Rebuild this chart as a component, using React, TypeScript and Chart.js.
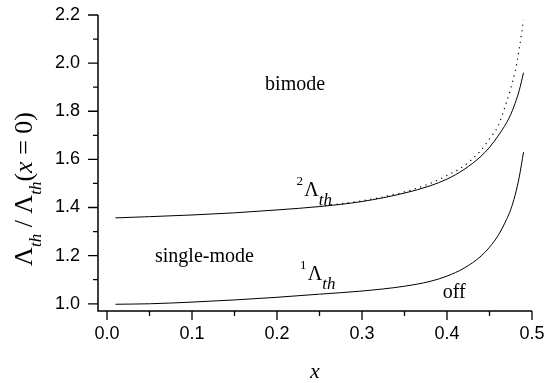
import React, { useEffect, useRef } from "react";
import { Chart, registerables } from "chart.js";

Chart.register(...registerables);

// ---- data ----
const xValues = [0.01, 0.05, 0.1, 0.15, 0.2, 0.25, 0.3, 0.35, 0.38, 0.4, 0.42, 0.44, 0.45, 0.46, 0.47, 0.475, 0.48, 0.485, 0.49];
const lambda1 = [0.998, 1.0, 1.007, 1.016, 1.027, 1.04, 1.053, 1.073, 1.093, 1.115, 1.148, 1.198, 1.235, 1.283, 1.35, 1.392, 1.45, 1.527, 1.63];
const lambda2 = [1.357, 1.362, 1.369, 1.378, 1.39, 1.404, 1.425, 1.46, 1.49, 1.518, 1.558, 1.613, 1.65, 1.697, 1.752, 1.787, 1.832, 1.887, 1.96];
const dottedX = [0.25, 0.3, 0.35, 0.38, 0.4, 0.42, 0.44, 0.45, 0.46, 0.47, 0.475, 0.48, 0.485, 0.49];
const dottedY = [1.405, 1.428, 1.465, 1.5, 1.533, 1.573, 1.638, 1.685, 1.738, 1.838, 1.895, 1.963, 2.06, 2.18];

const xTicks = [0.0, 0.1, 0.2, 0.3, 0.4, 0.5];
const xMinorTicks = [0.05, 0.15, 0.25, 0.35, 0.45];
const yTicks = [1.0, 1.2, 1.4, 1.6, 1.8, 2.0, 2.2];
const yMinorTicks = [1.1, 1.3, 1.5, 1.7, 1.9, 2.1];

// annotation anchors (data coordinates)
const annBimode = { x: 0.186, y: 1.889, text: "bimode" };
const annSingle = { x: 0.0565, y: 1.175, text: "single-mode" };
const annOff = { x: 0.395, y: 1.025, text: "off" };
const annL2 = { x: 0.223, y: 1.447, sup: "2" };
const annL1 = { x: 0.227, y: 1.1, sup: "1" };

const SERIF = "'Liberation Serif', 'Times New Roman', serif";
const SANS = "'Liberation Sans', Arial, sans-serif";

type Seg = { t: string; size: number; italic?: boolean; dy?: number };

function drawSegs(ctx: CanvasRenderingContext2D, segs: Seg[], x: number, y: number) {
  let cx = x;
  for (const s of segs) {
    ctx.font = `${s.italic ? "italic " : ""}${s.size}px ${SERIF}`;
    ctx.fillText(s.t, cx, y + (s.dy || 0));
    cx += ctx.measureText(s.t).width;
  }
}
function segsWidth(ctx: CanvasRenderingContext2D, segs: Seg[]) {
  let w = 0;
  for (const s of segs) {
    ctx.font = `${s.italic ? "italic " : ""}${s.size}px ${SERIF}`;
    w += ctx.measureText(s.t).width;
  }
  return w;
}

const zeroPad = (s: any) => {
  s.paddingLeft = 0;
  s.paddingRight = 0;
  s.paddingTop = 0;
  s.paddingBottom = 0;
};

const decor = {
  id: "decor",
  afterDraw(chart: any) {
    const ctx: CanvasRenderingContext2D = chart.ctx;
    const xs = chart.scales.x;
    const ys = chart.scales.y;
    const { left, right, top, bottom } = chart.chartArea;
    ctx.save();
    ctx.strokeStyle = "#000";
    ctx.fillStyle = "#000";
    ctx.lineWidth = 1.5;
    ctx.beginPath();
    ctx.moveTo(left, top);
    ctx.lineTo(left, bottom);
    ctx.lineTo(right, bottom);
    ctx.stroke();
    ctx.lineWidth = 1.3;
    ctx.beginPath();
    for (const v of yTicks) {
      const p = ys.getPixelForValue(v);
      ctx.moveTo(left, p);
      ctx.lineTo(left - 10, p);
    }
    for (const v of yMinorTicks) {
      const p = ys.getPixelForValue(v);
      ctx.moveTo(left, p);
      ctx.lineTo(left - 5, p);
    }
    for (const v of xTicks) {
      const p = xs.getPixelForValue(v);
      ctx.moveTo(p, bottom);
      ctx.lineTo(p, bottom + 9);
    }
    for (const v of xMinorTicks) {
      const p = xs.getPixelForValue(v);
      ctx.moveTo(p, bottom);
      ctx.lineTo(p, bottom + 5);
    }
    ctx.stroke();

    ctx.textBaseline = "alphabetic";
    ctx.textAlign = "left";
    for (const a of [annBimode, annSingle, annOff]) {
      ctx.font = `20px ${SERIF}`;
      ctx.fillText(a.text, xs.getPixelForValue(a.x), ys.getPixelForValue(a.y));
    }
    for (const a of [annL2, annL1]) {
      drawSegs(
        ctx,
        [
          { t: a.sup, size: 13, dy: -11 },
          { t: " ", size: 5 },
          { t: "Λ", size: 20 },
          { t: "th", size: 17, italic: true, dy: 9 },
        ],
        xs.getPixelForValue(a.x),
        ys.getPixelForValue(a.y)
      );
    }

    // x axis title
    ctx.font = `italic 22px ${SERIF}`;
    ctx.textAlign = "center";
    ctx.fillText("x", (left + right) / 2, 378);

    // y axis title
    ctx.textAlign = "left";
    const ySegs: Seg[] = [
      { t: "Λ", size: 26 },
      { t: "th", size: 17, italic: true, dy: 9 },
      { t: " / ", size: 26 },
      { t: "Λ", size: 26 },
      { t: "th", size: 17, italic: true, dy: 9 },
      { t: "(", size: 26 },
      { t: "x", size: 26, italic: true },
      { t: " = ", size: 26 },
      { t: "0", size: 26 },
      { t: ")", size: 26 },
    ];
    const w = segsWidth(ctx, ySegs);
    ctx.translate(32, 189);
    ctx.rotate(-Math.PI / 2);
    drawSegs(ctx, ySegs, -w / 2, 0);
    ctx.restore();
  },
};

export default function App() {
  const ref = useRef<HTMLCanvasElement | null>(null);
  useEffect(() => {
    if (!ref.current) return;
    const chart = new Chart(ref.current, {
      type: "line",
      data: {
        datasets: [
          {
            label: "2Λth",
            data: xValues.map((x, i) => ({ x, y: lambda2[i] })),
            borderColor: "#000",
            borderWidth: 1,
            pointRadius: 0,
            cubicInterpolationMode: "monotone",
            fill: false,
          },
          {
            label: "1Λth",
            data: xValues.map((x, i) => ({ x, y: lambda1[i] })),
            borderColor: "#000",
            borderWidth: 1,
            pointRadius: 0,
            cubicInterpolationMode: "monotone",
            fill: false,
          },
          {
            label: "dotted",
            data: dottedX.map((x, i) => ({ x, y: dottedY[i] })),
            borderColor: "#000",
            borderWidth: 1.2,
            borderDash: [1.2, 4.5],
            pointRadius: 0,
            cubicInterpolationMode: "monotone",
            fill: false,
          },
        ],
      },
      options: {
        animation: false,
        responsive: false,
        devicePixelRatio: 1,
        layout: { padding: { left: 0, right: 15, top: 15, bottom: 0 } },
        plugins: { legend: { display: false }, tooltip: { enabled: false } },
        scales: {
          x: {
            type: "linear",
            min: -0.0106,
            max: 0.5,
            grid: { display: false, drawTicks: false },
            border: { display: false },
            afterBuildTicks: (s: any) => {
              s.ticks = xTicks.map((v) => ({ value: v }));
            },
            afterFit: (s: any) => {
              s.height = 72;
              zeroPad(s);
            },
            ticks: {
              padding: 12,
              color: "#000",
              font: { family: SANS, size: 18 },
              maxRotation: 0,
              autoSkip: false,
              callback: (v: any) => Number(v).toFixed(1),
            },
          },
          y: {
            type: "linear",
            min: 0.97,
            max: 2.2,
            grid: { display: false, drawTicks: false },
            border: { display: false },
            afterBuildTicks: (s: any) => {
              s.ticks = yTicks.map((v) => ({ value: v }));
            },
            afterFit: (s: any) => {
              s.width = 98;
              zeroPad(s);
            },
            ticks: {
              padding: 18,
              color: "#000",
              font: { family: SANS, size: 18 },
              autoSkip: false,
              callback: (v: any) => Number(v).toFixed(1),
            },
          },
        },
      },
      plugins: [decor],
    } as any);
    return () => chart.destroy();
  }, []);
  return (
    <div style={{ position: "absolute", left: 0, top: 0, width: 547, height: 383, background: "#fff" }}>
      <canvas ref={ref} width={547} height={383} />
    </div>
  );
}
